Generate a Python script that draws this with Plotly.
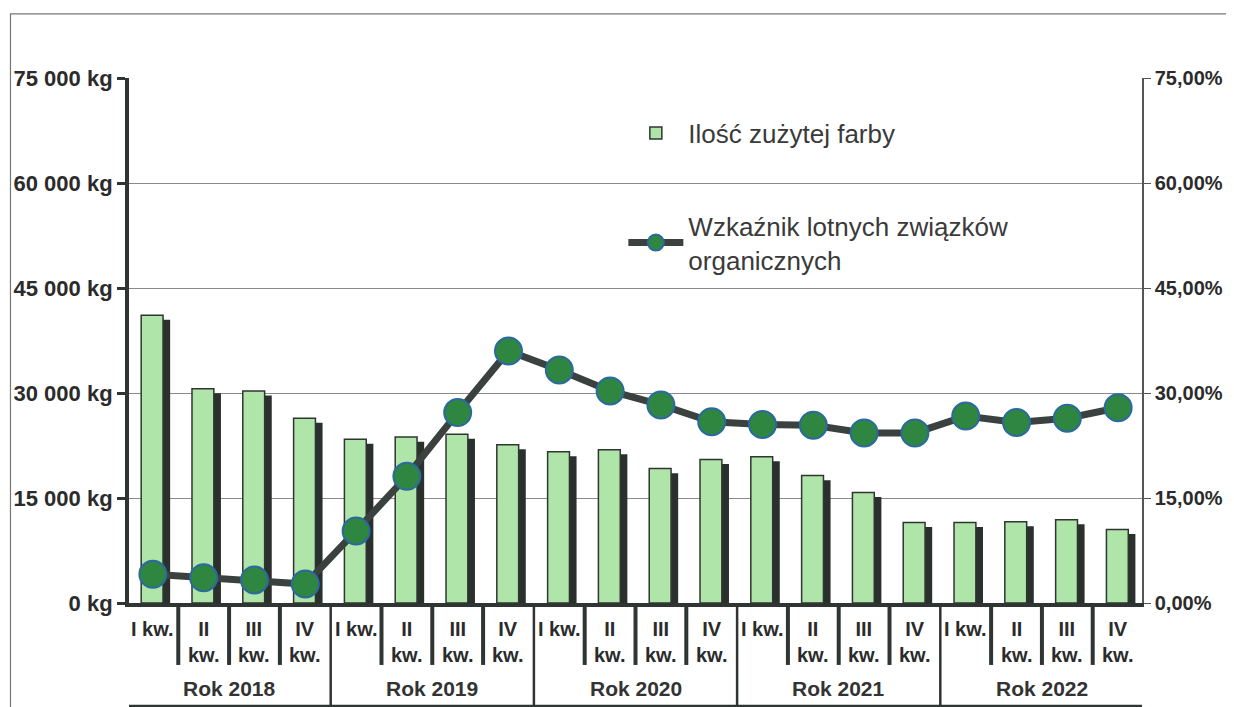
import plotly.graph_objects as go

years = ["Rok 2018", "Rok 2019", "Rok 2020", "Rok 2021", "Rok 2022"]
quarters = ["I kw.", "II<br>kw.", "III<br>kw.", "IV<br>kw."]
paint_kg = [41100, 30600, 30300, 26400,
            23400, 23700, 24100, 22600,
            21600, 21900, 19200, 20500,
            20900, 18200, 15800, 11500,
            11500, 11600, 11900, 10500]
voc_pct = [0.041, 0.036, 0.033, 0.027,
           0.103, 0.181, 0.272, 0.360,
           0.333, 0.303, 0.283, 0.259,
           0.255, 0.254, 0.243, 0.243,
           0.267, 0.258, 0.264, 0.279]
left_tickvals = [0, 15000, 30000, 45000, 60000, 75000]
left_ticktext = ["0 kg", "15 000 kg", "30 000 kg", "45 000 kg", "60 000 kg", "75 000 kg"]
right_tickvals = [0, 0.15, 0.30, 0.45, 0.60, 0.75]
right_ticktext = ["0,00%", "15,00%", "30,00%", "45,00%", "60,00%", "75,00%"]

n = len(paint_kg)
xs = list(range(n))
FONT = "Liberation Sans, Arial, sans-serif"
DARK = "#2f3532"

fig = go.Figure()

# shadow of bars (decorative)
fig.add_trace(go.Bar(
    x=xs, y=[v - 650 for v in paint_kg], width=0.44, offset=-0.1,
    marker=dict(color="#2a312d", line=dict(width=0)),
    showlegend=False, hoverinfo="skip"))
fig.add_trace(go.Bar(
    x=xs, y=paint_kg, width=0.43, offset=-0.23,
    name="Ilość zużytej farby", legendgroup="a",
    marker=dict(color="#b0e5aa", line=dict(color=DARK, width=1.5))))
fig.add_trace(go.Scatter(
    x=xs, y=voc_pct, yaxis="y2", mode="lines+markers",
    name="Wzkaźnik lotnych związków<br>organicznych", legendgroup="b",
    line=dict(color="#3b413e", width=7),
    marker=dict(size=27, color="#2e8641", line=dict(color="#2b6aa0", width=2))))

# table lines under the axis
shapes = []
for i in range(n + 1):
    xb = i - 0.5
    if i % 4 == 0:
        shapes.append(dict(type="line", xref="x", yref="paper", x0=xb, x1=xb,
                           y0=0, y1=-0.196, line=dict(color=DARK, width=2.5)))
    else:
        shapes.append(dict(type="line", xref="x", yref="paper", x0=xb, x1=xb,
                           y0=-0.005, y1=-0.118, line=dict(color=DARK, width=4)))
shapes.append(dict(type="line", xref="x", yref="paper", x0=-0.5, x1=n - 0.5,
                   y0=-0.196, y1=-0.196, line=dict(color=DARK, width=2.5)))
# outer frame
shapes.append(dict(type="rect", xref="paper", yref="paper",
                   x0=-0.117, x1=1.12, y0=-0.25, y1=1.122,
                   line=dict(color="#777", width=1.2)))

annotations = []
for i in range(n):
    annotations.append(dict(x=i, y=0, xref="x", yref="paper", text=quarters[i % 4],
                            showarrow=False, yanchor="top", yshift=-13,
                            font=dict(family=FONT, size=20, color="#2b2b2b", weight="bold")))
for k, yr in enumerate(years):
    annotations.append(dict(x=4 * k + 1.5, y=-0.163, xref="x", yref="paper", text=yr,
                            showarrow=False, yanchor="middle",
                            font=dict(family=FONT, size=21, color="#333", weight="bold")))

fig.update_layout(
    width=1226, height=699,
    margin=dict(l=121, r=92, t=70, b=104),
    paper_bgcolor="white", plot_bgcolor="white",
    barmode="overlay", bargap=0.5,
    font=dict(family=FONT),
    xaxis=dict(range=[-0.47, n - 0.53], showticklabels=False, showgrid=False,
               zeroline=False, showline=True, linecolor=DARK, linewidth=4,
               ticks="", fixedrange=True, automargin=False),
    yaxis=dict(range=[0, 75000], tickvals=left_tickvals, ticktext=left_ticktext,
               showgrid=True, gridcolor="#8a8a8a", gridwidth=1,
               showline=True, linecolor=DARK, linewidth=4,
               ticks="outside", ticklen=8, tickwidth=3, tickcolor=DARK,
               zeroline=False, automargin=False,
               tickfont=dict(family=FONT, size=22, color="#2b2b2b", weight="bold")),
    yaxis2=dict(range=[0, 0.75], tickvals=right_tickvals, ticktext=right_ticktext,
                overlaying="y", side="right", showgrid=False, zeroline=False,
                showline=True, linecolor="#555", linewidth=1.5, automargin=False,
                ticks="outside", ticklen=7, tickcolor="#555",
                tickfont=dict(family=FONT, size=20, color="#2b2b2b", weight="bold")),
    legend=dict(x=0.488, y=0.94, xanchor="left", yanchor="top",
                bgcolor="rgba(255,255,255,0)", tracegroupgap=56,
                font=dict(family=FONT, size=26, color="#3a3a3a"), itemwidth=55),
    shapes=shapes, annotations=annotations,
)

fig.write_html("out.html")
